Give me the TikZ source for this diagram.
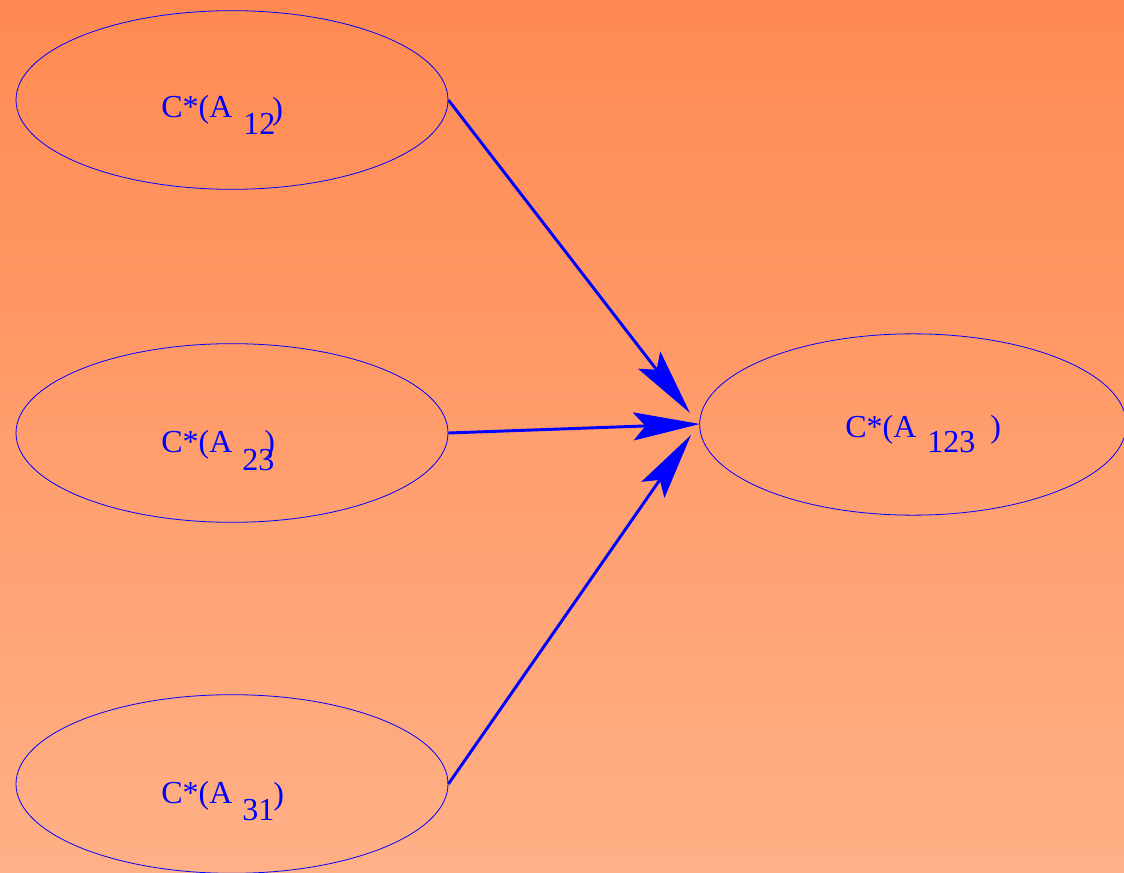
\documentclass[tikz,border=0pt]{standalone}
\usepackage{fontspec}
\setmainfont{Liberation Serif}
\usetikzlibrary{shapes.geometric,arrows.meta}
\definecolor{bgtop}{RGB}{255,138,82}
\definecolor{bgbot}{RGB}{255,176,134}
\definecolor{ink}{RGB}{0,0,255}
\tikzset{
  oval/.style={ellipse, draw=ink, line width=0.6pt, inner sep=0pt, minimum width=324pt, minimum height=134pt},
  lbl/.style={anchor=base west, inner sep=0pt, text=ink, font=\fontsize{24}{28}\selectfont},
  conn/.style={draw=ink, line width=2.2pt, -{Stealth[length=50pt, width=21pt, inset=9pt]}}
}
\begin{document}
\begin{tikzpicture}[x=0.75pt,y=-0.75pt]
\useasboundingbox (0,0) rectangle (1124,873);
\shade[top color=bgtop, bottom color=bgbot] (0,0) rectangle (1124,873);
\node[oval] (e1) at (232,100) {};
\node[oval] (e2) at (232,433) {};
\node[oval] (e3) at (232,784) {};
\node[oval, minimum width=320pt, minimum height=136pt] (e4) at (913,424.5) {};
% labels
\node[lbl] (l1) at (161,118) {C*(A};
\node[lbl] (s1) at (243,135) {12};
\node[lbl] (p1) at (272,120) {)};
\node[lbl] (l2) at (161,452) {C*(A};
\node[lbl] (s2) at (242,470) {23};
\node[lbl] (p2) at (264,452) {)};
\node[lbl] (l3) at (161,803) {C*(A};
\node[lbl] (s3) at (242,820) {31};
\node[lbl] (p3) at (273,804) {)};
\node[lbl] (l4) at (845,437) {C*(A};
\node[lbl] (s4) at (927,452) {123};
\node[lbl] (p4) at (990,437) {)};
% arrow tips
\coordinate (t1) at (690,413);
\coordinate (t2) at (700,424);
\coordinate (t3) at (691,435);
\draw[conn] (e1.east) -- (t1);
\draw[conn] (e2.east) -- (t2);
\draw[conn] (e3.east) -- (t3);
\end{tikzpicture}
\end{document}
